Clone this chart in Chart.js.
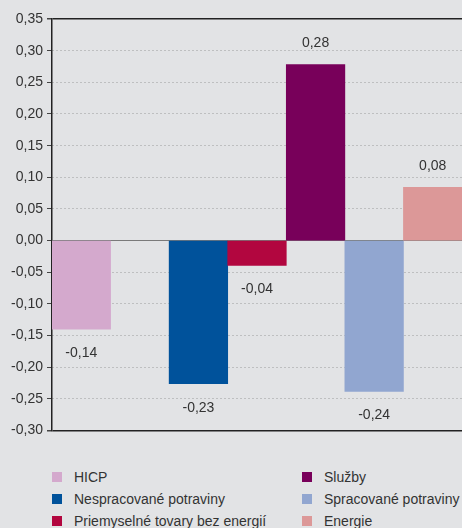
<!DOCTYPE html>
<html>
<head>
<meta charset="utf-8">
<script src="https://cdn.jsdelivr.net/npm/chart.js@4/dist/chart.umd.min.js"></script>
<style>
body { margin: 0; background: #e2e3e5; font-family: "Liberation Sans", Arial, sans-serif; }
#wrap { position: relative; width: 462px; height: 528px; overflow: hidden; }
#chart_box { position: absolute; left: 0; top: 0; width: 462px; height: 443px; }
#legend { position: absolute; left: 52px; top: 466px; display: grid; grid-template-columns: 250px 160px; grid-template-rows: repeat(3, 22px); grid-auto-flow: column; }
#legend .item { display: flex; align-items: center; font-size: 14px; color: #333; white-space: nowrap; }
#legend .box { width: 10px; height: 10px; margin-right: 12px; flex: none; }
</style>
</head>
<body>
<div id="wrap">
  <div id="chart_box"><canvas id="chart_hicp"></canvas></div>
  <div id="legend"></div>
</div>
<script>
// one empty slot after HICP
var categories = ['HICP', '', 'Nespracované potraviny', 'Priemyselné tovary bez energií', 'Služby', 'Spracované potraviny', 'Energie'];
var values = [-0.14, null, -0.226, -0.039, 0.278, -0.238, 0.084];
var colors = ['#d4a9cd', 'rgba(0,0,0,0)', '#00529b', '#b2063f', '#78005a', '#91a6d0', '#dc9898'];
var yTicks = [-0.30, -0.25, -0.20, -0.15, -0.10, -0.05, 0, 0.05, 0.10, 0.15, 0.20, 0.25, 0.30, 0.35];

function comma(v) {
	return v.toFixed(2).replace('.', ',');
}

/* labels at the end of each bar */
var barLabels = {
	id: 'barLabels',
	afterDatasetsDraw: function(chart) {
		var ctx = chart.ctx;
		var meta = chart.getDatasetMeta(0);
		ctx.save();
		ctx.font = '14px "Liberation Sans", Arial, sans-serif';
		ctx.fillStyle = '#333';
		ctx.textAlign = 'center';
		ctx.textBaseline = 'middle';
		meta.data.forEach(function(bar, i) {
			var v = values[i];
			if (v === null) return;
			var y = v < 0 ? bar.y + 24 : bar.y - 21;
			ctx.fillText(comma(v), bar.x, y);
		});
		ctx.restore();
	}
};

var ctx = document.getElementById('chart_hicp').getContext('2d');
var myChart = new Chart(ctx, {
	type: 'bar',
	data: {
		labels: categories,
		datasets: [{
			data: values,
			backgroundColor: colors,
			barPercentage: 1,
			categoryPercentage: 1
		}]
	},
	options: {
		responsive: true,
		maintainAspectRatio: false,
		animation: false,
		layout: { padding: { top: 19, bottom: 10, left: 0, right: 0 } },
		plugins: {
			legend: { display: false },
			tooltip: { enabled: false }
		},
		scales: {
			x: { display: false },
			y: {
				min: -0.30,
				max: 0.35,
				afterBuildTicks: function(s) { s.ticks = yTicks.map(function(v){ return {value: v}; }); },
				afterFit: function(s) { s.width = 52; },
				ticks: {
					color: '#333',
					padding: 4,
					font: { family: '"Liberation Sans", Arial, sans-serif', size: 14 },
					callback: function(v) { return comma(v); }
				},
				border: {
					display: true,
					color: '#222',
					width: 1.5,
					dash: function(c) {
						if (!c.tick) return [];
						var v = Math.round(c.tick.value * 100);
						if (v === 0 || v === -30 || v === 35) return [];
						return [1, 3];
					}
				},
				grid: {
					color: function(c) {
						var v = Math.round(c.tick.value * 100);
						if (v === -30 || v === 35) return '#222';
						if (v === 0) return '#7a7a7a';
						return '#9a9a9a';
					},
					lineWidth: function(c) {
						var v = Math.round(c.tick.value * 100);
						if (v === -30 || v === 35) return 1.5;
						return 1;
					},
					tickColor: '#444',
					tickLength: 5,
					tickBorderDash: []
				}
			}
		}
	},
	plugins: [barLabels]
});

/* legend */
var legend = document.getElementById('legend');
categories.forEach(function(name, i) {
	if (!name) return;
	var item = document.createElement('div');
	item.className = 'item';
	item.innerHTML = '<span class="box" style="background:' + colors[i] + '"></span>' + name;
	legend.appendChild(item);
});
</script>
</body>
</html>
